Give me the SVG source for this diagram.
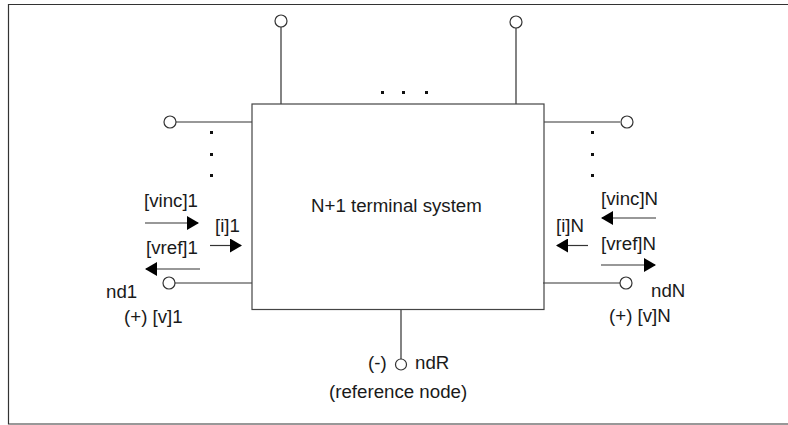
<svg xmlns="http://www.w3.org/2000/svg" width="788" height="425" viewBox="0 0 788 425">
<style>
text{font-family:"Liberation Sans",Arial,sans-serif;font-size:18.700px;fill:#1a1a1a}
.l{fill:none;stroke:#333;stroke-width:1.2}
.t{fill:#fff;stroke:#333;stroke-width:1.2}
.d{fill:#111}
</style>
<defs><marker id="a" markerUnits="userSpaceOnUse" markerWidth="12" markerHeight="14" refX="11" refY="7" orient="auto"><path d="M0 0L12 7L0 14Z" fill="#000"/></marker></defs>
<rect width="788" height="425" fill="#fff"/>
<path id="frame" d="M788 4.500H8.500V424H788" fill="none" stroke="#333" stroke-width="1.200"/>
<g id="connectors">
<path class="l" d="M281 27V104M516 28V104M176 122H252M544 122H620M174 283H252M543 283H620M401 310V359"/>
<path class="l" d="M145 223H198" marker-end="url(#a)"/>
<path class="l" d="M210 245.500H241" marker-end="url(#a)"/>
<path class="l" d="M200 269H146" marker-end="url(#a)"/>
<path class="l" d="M656 218H602" marker-end="url(#a)"/>
<path class="l" d="M588 245.500H557" marker-end="url(#a)"/>
<path class="l" d="M601 265H655" marker-end="url(#a)"/>
</g>
<g id="system"><rect x="252" y="104" width="292" height="205.500" fill="none" stroke="#444" stroke-width="1.200"/><text x="311" y="212">N+1 terminal system</text></g>
<g id="t-top-1"><circle class="t" cx="281" cy="21" r="6"/></g>
<g id="t-top-2"><circle class="t" cx="516" cy="22" r="6"/></g>
<g id="t-left-top"><circle class="t" cx="170" cy="122" r="6"/></g>
<g id="t-right-top"><circle class="t" cx="627" cy="122" r="6"/></g>
<g id="t-nd1"><circle class="t" cx="169" cy="283" r="6"/><text x="106" y="298">nd1</text><text x="124" y="323">(+) [v]1</text></g>
<g id="t-ndN"><circle class="t" cx="626" cy="283" r="6"/><text x="651" y="297">ndN</text><text x="609" y="322">(+) [v]N</text></g>
<g id="t-ndR"><circle class="t" cx="401" cy="364.500" r="5.500"/><text x="368" y="369">(-)</text><text x="415" y="369">ndR</text><text x="329" y="398">(reference node)</text></g>
<g id="labels">
<text x="144" y="207">[vinc]1</text><text x="215" y="232">[i]1</text><text x="146" y="254">[vref]1</text>
<text x="601" y="205">[vinc]N</text><text x="556" y="232">[i]N</text><text x="601" y="250">[vref]N</text>
</g>
<g id="dots" class="d">
<rect x="210" y="131" width="3" height="3"/><rect x="210" y="153" width="3" height="3"/><rect x="210" y="174" width="3" height="3"/>
<rect x="591" y="131" width="3" height="3"/><rect x="591" y="153" width="3" height="3"/><rect x="591" y="174" width="3" height="3"/>
<rect x="381" y="91" width="3" height="3"/><rect x="402" y="91" width="3" height="3"/><rect x="425" y="91" width="3" height="3"/>
</g>
</svg>
